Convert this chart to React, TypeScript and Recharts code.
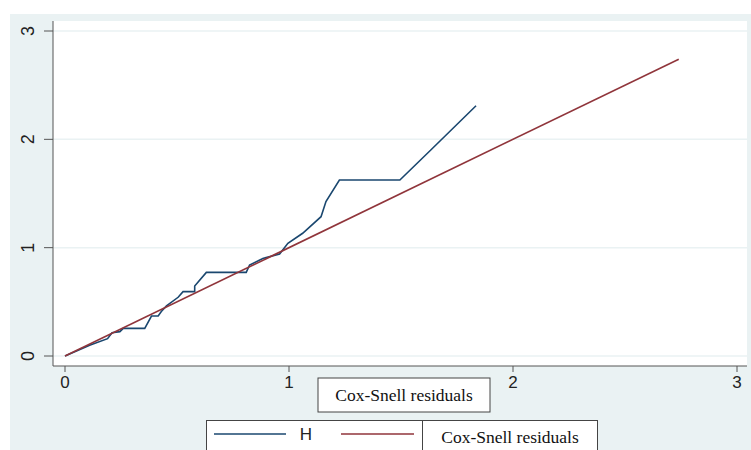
import React from 'react';
import { LineChart, Line, XAxis, YAxis, CartesianGrid, Legend } from 'recharts';

// Nelson-Aalen cumulative hazard H against Cox-Snell residuals
const hazardResid = [0, 0.11, 0.19, 0.21, 0.245, 0.26, 0.356, 0.386, 0.416, 0.43, 0.453, 0.505, 0.527, 0.579, 0.579, 0.631, 0.809, 0.824, 0.883, 0.958, 0.995, 1.061, 1.143, 1.165, 1.225, 1.495, 1.633, 1.835];
const hazardH = [0, 0.1, 0.16, 0.215, 0.225, 0.255, 0.255, 0.369, 0.369, 0.41, 0.462, 0.542, 0.594, 0.594, 0.646, 0.772, 0.772, 0.84, 0.9, 0.942, 1.04, 1.133, 1.286, 1.425, 1.625, 1.625, 1.902, 2.31];

// reference line: residuals plotted against themselves
const refResid = [0, 2.74];

const ticks = [0, 1, 2, 3];

const NAVY = '#1a476f';
const MAROON = '#90353b';
const BG = '#eaf2f3';
const SANS = '"Liberation Sans", Arial, sans-serif';
const SERIF = '"Liberation Serif", "Times New Roman", serif';

const hData = hazardResid.map((x, i) => ({ x, y: hazardH[i] }));
const refData = refResid.map((x) => ({ x, y: x }));

const XTick = ({ x, y, payload }: any) => (
  <text x={x} y={y + 14} textAnchor="middle" fontFamily={SANS} fontSize={17} fill="#222">
    {payload.value}
  </text>
);

const YTick = ({ y, payload }: any) => (
  <text
    x={18}
    y={y}
    transform={`rotate(-90 18 ${y})`}
    textAnchor="middle"
    dominantBaseline="central"
    fontFamily={SANS}
    fontSize={18}
    fill="#222"
  >
    {payload.value}
  </text>
);

const AxisTitle = ({ viewBox }: any) => {
  const cx = viewBox.x + viewBox.width / 2 + 4;
  const top = viewBox.y + 12;
  return (
    <g>
      <rect x={cx - 86} y={top} width={172} height={34} fill="#fff" stroke="#444" strokeWidth={1} />
      <text x={cx} y={top + 23} textAnchor="middle" fontFamily={SERIF} fontSize={17.5} fill="#111">
        Cox-Snell residuals
      </text>
    </g>
  );
};

const LegendBox = () => (
  <div style={{ position: 'relative', width: 392, height: 36, background: '#fff', border: '1px solid #444', boxSizing: 'border-box' }}>
    <svg width={392} height={36} style={{ position: 'absolute', left: 0, top: 0 }}>
      <line x1={7} x2={79} y1={13} y2={13} stroke={NAVY} strokeWidth={1.6} />
      <text x={99} y={19} textAnchor="middle" fontFamily={SANS} fontSize={17} fill="#222">H</text>
      <line x1={134} x2={207} y1={13} y2={13} stroke={MAROON} strokeWidth={1.6} />
    </svg>
    <div
      style={{
        position: 'absolute', left: 215, top: -1, width: 176, height: 36,
        border: '1px solid #444', boxSizing: 'border-box', background: '#fff',
        fontFamily: SERIF, fontSize: 17.5, color: '#111', textAlign: 'center', lineHeight: '32px',
      }}
    >
      Cox-Snell residuals
    </div>
  </div>
);

export default function App() {
  return (
    <div style={{ position: 'fixed', left: 10, top: 14, width: 741, height: 436, background: BG, overflow: 'hidden' }}>
      <LineChart width={741} height={436} margin={{ top: 7, right: 4, left: 0, bottom: 54 }}>
        <CartesianGrid vertical={false} fill="#fff" stroke={BG} strokeWidth={1.5} horizontalValues={ticks} />
        <XAxis
          type="number"
          dataKey="x"
          domain={[0, 3]}
          ticks={ticks}
          padding={{ left: 12, right: 10 }}
          height={30}
          stroke="#555"
          tickSize={6}
          tick={<XTick />}
          allowDuplicatedCategory={false}
          label={<AxisTitle />}
        />
        <YAxis
          type="number"
          dataKey="y"
          domain={[0, 3]}
          ticks={ticks}
          padding={{ top: 10, bottom: 10 }}
          width={43}
          stroke="#555"
          tickSize={9}
          tick={<YTick />}
        />
        <Line data={hData} dataKey="y" type="linear" stroke={NAVY} strokeWidth={1.6} dot={false} isAnimationActive={false} />
        <Line data={refData} dataKey="y" type="linear" stroke={MAROON} strokeWidth={1.6} dot={false} isAnimationActive={false} />
        <Legend
          layout="horizontal"
          verticalAlign="middle"
          align="center"
          wrapperStyle={{ left: 196, top: 406, width: 392, height: 36 }}
          content={() => <LegendBox />}
        />
      </LineChart>
    </div>
  );
}
